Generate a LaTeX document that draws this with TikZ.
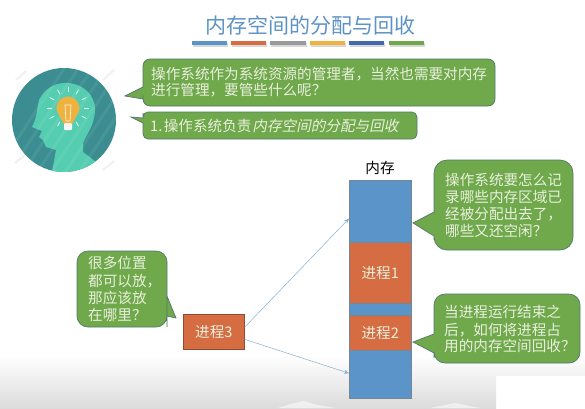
\documentclass[tikz,border=0pt]{standalone}
\usepackage{fontspec}
\setmainfont{Noto Sans CJK SC}
\usetikzlibrary{arrows.meta,calc,shadows}
\definecolor{bgreen}{HTML}{70A84C}
\definecolor{bgreenedge}{HTML}{52796B}
\definecolor{bblue}{HTML}{5B94C8}
\definecolor{borange}{HTML}{D56C42}
\definecolor{bgray}{HTML}{9A9A9A}
\definecolor{byellow}{HTML}{EFB23F}
\definecolor{bnavy}{HTML}{4468AE}
\definecolor{titleblue}{HTML}{5E93C6}
\definecolor{teal1}{HTML}{3B8D91}
\definecolor{teal2}{HTML}{55CDB0}
\definecolor{txtw}{HTML}{E8F0DC}
\tikzset{
  x=1pt,y=-1pt,
  bubble/.style={fill=bgreen,draw=bgreenedge,line width=.7pt},
  btext/.style={anchor=west,inner sep=0pt,text=txtw,font=\fontsize{14.6}{17}\selectfont},
  bar/.style={fill=#1,draw=none,drop shadow={shadow xshift=.6pt,shadow yshift=-1.5pt,opacity=.3}},
  memblue/.style={rectangle,fill=bblue,draw=gray!70!bblue,line width=.5pt,minimum width=62pt,inner sep=0pt,anchor=north west},
  memproc/.style={rectangle,fill=borange,draw=gray!70!bblue,line width=.5pt,minimum width=62pt,inner sep=0pt,anchor=north west,text=txtw,font=\fontsize{14.6}{17}\selectfont},
  conn/.style={draw=bblue!75,line width=.5pt,-{Stealth[length=5pt,width=4pt]}},
}
\begin{document}
\begin{tikzpicture}
\useasboundingbox (0,0) rectangle (585,408);
\fill[white] (0,0) rectangle (585,408);
% bottom background
\shade[top color=white,bottom color=black!14] (0,356) rectangle (496,408);
\fill[white,opacity=.55] (278,408) -- (290,404) -- (304,401) -- (318,405) -- (335,408) -- cycle;
\fill[white,opacity=.55] (430,408) -- (445,405) -- (455,403) -- (470,406) -- (480,408) -- cycle;
\begin{scope}
\clip (496,356) rectangle (585,375);
\shade[top color=white,bottom color=black!14] (496,356) rectangle (585,408);
\end{scope}
% title
\node[inner sep=0pt,text=titleblue,font=\fontsize{21}{25}\selectfont] (title) at (310,25) {内存空间的分配与回收};
\foreach \a/\b/\c in {192/227/bblue,231/266/borange,270/306/bgray,310/345/byellow,349/384/bnavy,389/424/bgreen}
  \fill[bar=\c] (\a,41) rectangle (\b,45);
% head icon
\foreach \p/\q in {{16,80}/{26,71},{103,80}/{114,70},{15,163}/{25,155},{103,170}/{114,161}}
  \draw[black!6,line width=2pt] (\p) -- (\q);
\begin{scope}
\clip (64,120) circle (52);
\fill[teal1] (12,68) rectangle (116,172);
\fill[teal2] (52,172) -- (56,150) -- (46,147) -- (43,140) -- (39,137) -- (42,131) -- (32,127)
  .. controls (37,118) and (37,108) .. (39,100)
  .. controls (45,87) and (58,82) .. (68,83)
  .. controls (84,84) and (95,96) .. (95,109)
  .. controls (95,125) and (86,135) .. (83,143)
  -- (83,152) -- (96,162) -- (96,172) -- cycle;
\foreach \d in {0,14,...,126}
  \draw[white,opacity=.07,line width=3pt] (\d-10,180) -- (\d+70,60);
\end{scope}
\fill[byellow] (68,108) circle (11.5);
\fill[byellow] (59,115) -- (77,115) -- (72,124) -- (64,124) -- cycle;
\draw[white!85!byellow,line width=.7pt] (65,105) -- (71,105) -- (70,121) -- (66,121) -- cycle;
\fill[white!92!gray,rounded corners=1pt] (64,123) rectangle (72,130);
\foreach \ang in {0,30,60,120,150,180,210,240,270,300,330}
  \draw[white!85!teal2,line width=.8pt] ($(68,108)+(\ang:16)$) -- ($(68,108)+(\ang:21)$);
% top bubbles
\draw[bubble,rounded corners=7pt] (143,95) -- (143,106) -- (495,106) -- (495,59) -- (143,59) -- (143,87) [rounded corners=0pt] -- (143,87) -- (125,96) -- (143,99) -- cycle;
\node[btext] (t1a) at (151,74) {操作系统作为系统资源的管理者，当然也需要对内存};
\node[btext] (t1b) at (151,90) {进行管理，要管些什么呢？};
\draw[bubble,rounded corners=5pt] (143,125) -- (143,139) -- (417,139) -- (417,112) -- (143,112) -- (143,118) [rounded corners=0pt] -- (143,118) -- (131,117) -- (143,123) -- cycle;
\node[btext] (t2) at (150,126) {1.\hspace{1.5pt}操作系统负责\hspace{1pt}{\addfontfeature{FakeSlant=0.2}内存空间的分配与回收}};
% memory
\node[inner sep=0pt,font=\fontsize{14.6}{17}\selectfont] (memlabel) at (380,168) {内存};
\node[memblue,minimum height=62pt] (memA) at (349,180) {};
\node[memproc,minimum height=61pt] (p1) at (349,242) {进程1};
\node[memblue,minimum height=12pt] (gap) at (349,303) {};
\node[memproc,minimum height=35pt] (p2) at (349,315) {进程2};
\node[memblue,minimum height=48pt] (memB) at (349,350) {};
% right bubbles
\draw[bubble,rounded corners=13pt] (434,240) -- (434,250) -- (573,250) -- (573,160) -- (434,160) -- (434,212) [rounded corners=0pt] -- (434,212) -- (413,223) -- (434,236) -- cycle;
\foreach \nm/\yy/\tx in {r1a/180/操作系统要怎么记,r1b/197/录哪些内存区域已,r1c/214/经被分配出去了，,r1d/231/哪些又还空闲？}
  \node[btext] (\nm) at (445,\yy) {\tx};
\draw[bubble,rounded corners=11pt] (434,358) -- (434,363) -- (580,363) -- (580,294) -- (434,294) -- (434,334) [rounded corners=0pt] -- (434,334) -- (413,342) -- (434,353) -- cycle;
\foreach \nm/\yy/\tx in {r2a/312/当进程运行结束之,r2b/330/后，如何将进程占,r2c/346/用的内存空间回收？}
  \node[btext] (\nm) at (444,\yy) {\tx};
% left bubble
\draw[bubble,rounded corners=11pt] (77,290) -- (77,327) -- (167,327) -- (167,316) [rounded corners=0pt] -- (167,316) -- (176,318) -- (167,296) [rounded corners=11pt] -- (167,295) -- (167,251) -- (77,251) -- cycle;
\foreach \nm/\yy/\tx in {l1/263/很多位置,l2/281/都可以放，,l3/298/那应该放,l4/315/在哪里？}
  \node[btext] (\nm) at (88,\yy) {\tx};
% process 3 and arrows
\node[rectangle,anchor=north west,fill=borange,draw=borange!70!black,line width=.6pt,minimum width=61pt,minimum height=35pt,inner sep=0pt,text=txtw,font=\fontsize{14.6}{17}\selectfont] (p3) at (183,314) {进程3};
\draw[conn] ($(p3.east)+(0,-4.5)$) -- ($(memA.south west)+(0,-24)$);
\draw[conn] ($(p3.east)+(0,7.5)$) -- ($(memB.west)+(0,-1)$);
\end{tikzpicture}
\end{document}
